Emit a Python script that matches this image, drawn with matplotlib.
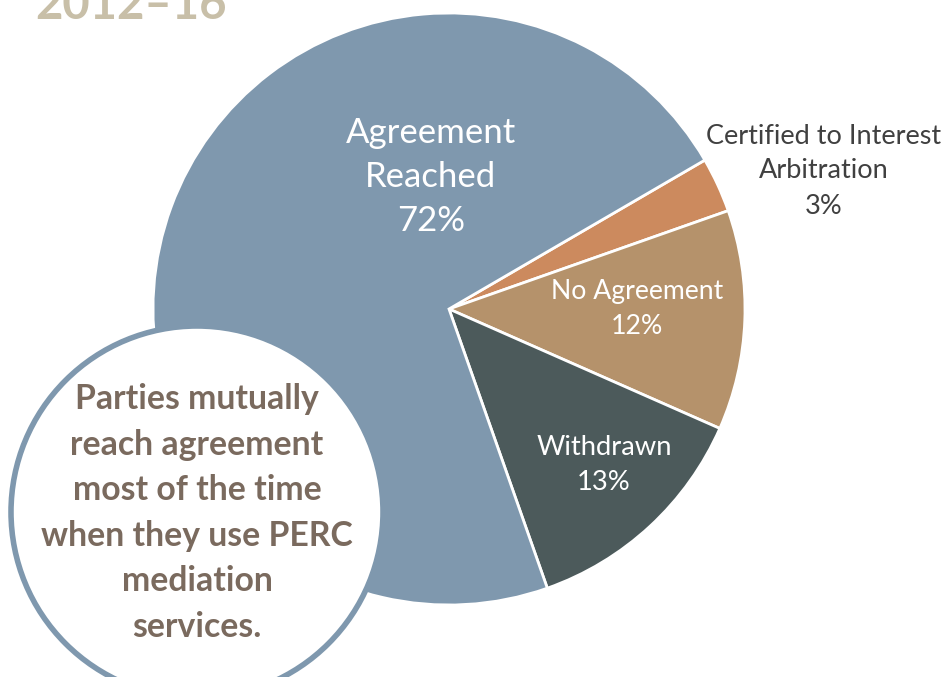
import matplotlib
matplotlib.use("Agg")
import matplotlib.pyplot as plt
from matplotlib.patches import Circle

# Data
categories = ["Certified to Interest\nArbitration", "No Agreement", "Withdrawn", "Agreement\nReached"]
values = [3, 12, 13, 72]
colors = ["#cc8a5e", "#b5926b", "#4c5a5b", "#7f98ae"]
title = "2012\u201316"
callout = "Parties mutually\nreach agreement\nmost of the time\nwhen they use PERC\nmediation\nservices."

W, H = 944, 677
fig = plt.figure(figsize=(W / 100, H / 100), dpi=100)
ax = fig.add_axes([0, 0, 1, 1])

cx, cy, r = 449, H - 309, 296
wedges, _ = ax.pie(values, colors=colors, startangle=30.2, counterclock=False,
                   center=(cx, cy), radius=r, frame=True,
                   wedgeprops=dict(edgecolor="white", linewidth=2))
ax.set_xlim(0, W)
ax.set_ylim(0, H)
ax.set_aspect("equal")
ax.axis("off")

font = "Lato"
# labels
ax.text(431, H - 177, f"{categories[3]}\n{values[3]}%", color="white", fontsize=25,
        family=font, ha="center", va="center", linespacing=1.48)
ax.text(824, H - 171, f"{categories[0]}\n{values[0]}%", color="#404040", fontsize=19.5,
        family=font, ha="center", va="center", linespacing=1.5)
ax.text(637, H - 309, f"{categories[1]}\n{values[1]}%", color="white", fontsize=19.2,
        family=font, ha="center", va="center", linespacing=1.52)
ax.text(604, H - 465, f"{categories[2]}\n{values[2]}%", color="white", fontsize=19.7,
        family=font, ha="center", va="center", linespacing=1.52)

# callout circle
circ = Circle((197, H - 512), 186, facecolor="white", edgecolor="#7f98ae", linewidth=4, zorder=5)
ax.add_patch(circ)
ax.text(197, H - 513, callout, color="#7a6a5e", fontsize=24.3, fontweight="bold",
        family=font, ha="center", va="center", linespacing=1.52, zorder=6)

# title (partially cut off, as in the reference)
ax.text(35, H - 19, title, color="#c8bfa8", fontsize=34, fontweight="bold",
        family=font, ha="left", va="baseline")

fig.savefig("out.png", dpi=100)
